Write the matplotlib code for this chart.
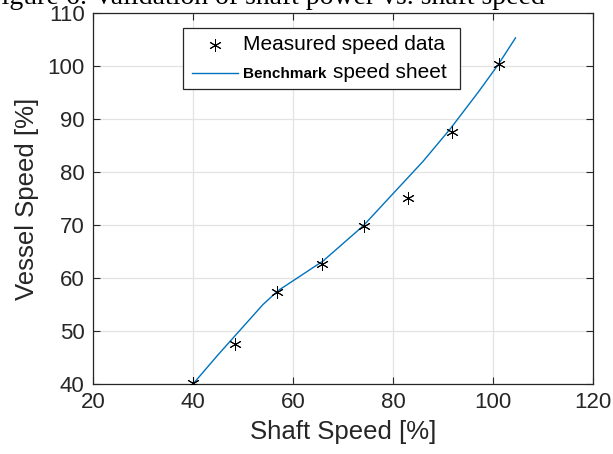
import matplotlib
matplotlib.use("Agg")
import matplotlib.pyplot as plt
from matplotlib.patches import Rectangle
from matplotlib.lines import Line2D

# Data
meas_x = [40.0, 48.3, 56.8, 65.7, 74.2, 83.0, 91.8, 101.2]
meas_y = [40.2, 47.5, 57.4, 62.6, 69.8, 75.1, 87.6, 100.3]
bench_x = [40.0, 45.0, 54.0, 57.0, 66.0, 74.0, 79.5, 86.0, 91.5, 97.0, 101.0, 104.5]
bench_y = [40.0, 45.5, 55.0, 57.6, 63.2, 69.8, 75.4, 82.0, 88.2, 95.0, 100.2, 105.3]
xticks = [20, 40, 60, 80, 100, 120]
yticks = [40, 50, 60, 70, 80, 90, 100, 110]

plt.rcParams['font.family'] = ['Liberation Sans', 'DejaVu Sans']

L, R, T, B = 93, 593, 13, 384
fig = plt.figure(figsize=(6.13, 4.54), dpi=100)
ax = fig.add_axes([L/613, 1-B/454, (R-L)/613, (B-T)/454])

blue = '#0072BD'
star = (6, 2, 0)
ax.plot(bench_x, bench_y, color=blue, lw=1.0, zorder=3)
ax.plot(meas_x, meas_y, ls='none', marker=star, color='black', ms=9,
        markeredgewidth=0.7, zorder=4)

ax.set_xlim(20, 120)
ax.set_ylim(40, 110)
ax.set_xticks(xticks)
ax.set_yticks(yticks)
ax.grid(True, color='#e3e3e3', lw=0.9)
ax.set_axisbelow(True)
ax.tick_params(direction='in', top=True, right=True, labelsize=16,
               colors='#262626', length=5, width=0.8, pad=6)
for s in ax.spines.values():
    s.set_color('#262626')
    s.set_linewidth(0.9)
ax.set_xlabel('Shaft Speed [%]', fontsize=18.5, color='#262626', labelpad=5)
ax.set_ylabel('Vessel Speed [%]', fontsize=18.5, color='#262626', labelpad=6)

# Legend (manual, to get mixed font styles)
def ax_frac(px, py):
    return ((px-L)/(R-L), (B-py)/(B-T))

x0, y0 = ax_frac(183, 89)
x1, y1 = ax_frac(460, 28)
ax.add_patch(Rectangle((x0, y0), x1-x0, y1-y0, transform=ax.transAxes,
                       facecolor='white', edgecolor='#262626', lw=0.9, zorder=5))
sx, sy = ax_frac(215, 45)
ax.add_line(Line2D([sx], [sy], marker=star, color='black', ms=9,
                   markeredgewidth=0.7, transform=ax.transAxes, zorder=6))
lx0, ly = ax_frac(192, 72.5)
lx1, _ = ax_frac(238, 72.5)
ax.add_line(Line2D([lx0, lx1], [ly, ly], color=blue, lw=1.0,
                   transform=ax.transAxes, zorder=6))
tx, ty = ax_frac(243, 45)
ax.text(tx, ty, 'Measured speed data', transform=ax.transAxes, fontsize=15,
        va='center', ha='left', color='black', zorder=7)
bx, by = ax_frac(243, 74)
ax.text(bx, by, 'Benchmark', transform=ax.transAxes, fontsize=11,
        fontweight='bold', va='center', ha='left', color='black', zorder=7)
px2, py2 = ax_frac(333, 73)
ax.text(px2, py2, 'speed sheet', transform=ax.transAxes, fontsize=15,
        va='center', ha='left', color='black', zorder=7)

# Partially cut caption at the top
fig.text(-14/613, 1-4/454, 'Figure 6: Validation of shaft power vs. shaft speed',
         fontsize=20, family=['Liberation Serif', 'DejaVu Serif'],
         ha='left', va='baseline', color='black')

fig.savefig('out.png', dpi=100)
